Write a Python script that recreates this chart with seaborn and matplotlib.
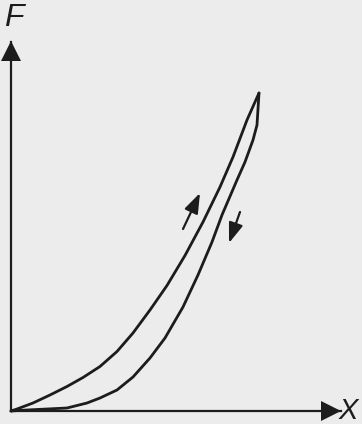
import matplotlib
matplotlib.use("Agg")
import matplotlib.pyplot as plt
import seaborn as sns
import pandas as pd

# Loading branch (upper curve) of the force-displacement loop
load_x = [0.0, 0.24, 0.88, 1.56, 2.24, 2.88, 3.56, 4.24, 4.88, 5.56, 6.24, 6.96,
          7.68, 8.36, 8.88, 9.44, 9.92]
load_f = [0.0, 0.08, 0.32, 0.64, 0.98, 1.34, 1.78, 2.38, 3.12, 4.04, 5.02, 6.22,
          7.56, 8.96, 10.16, 11.64, 12.72]

# Unloading branch (lower curve)
unload_x = [9.92, 9.84, 9.68, 9.36, 9.04, 8.44, 8.04, 7.48, 6.88, 6.16, 5.56, 4.88,
            4.24, 3.56, 3.04, 2.24, 0.64, 0.0]
unload_f = [12.72, 11.44, 10.84, 9.96, 9.24, 7.84, 6.76, 5.44, 4.16, 2.92, 2.12, 1.36,
            0.84, 0.52, 0.32, 0.12, 0.04, 0.0]

# Direction arrows along each branch: (tail, head)
up_arrow = ((6.88, 7.28), (7.56, 8.72))
down_arrow = ((9.16, 7.96), (8.72, 6.72))

axis_labels = ("X", "F")

ink = "#1c1c1c"
paper = "#ececec"

sns.set_style("white")
plt.rcParams["font.family"] = ["Liberation Sans", "DejaVu Sans"]

fig = plt.figure(figsize=(3.62, 4.24), dpi=100, facecolor=paper)
ax = fig.add_axes([11 / 362, 13 / 424, 330 / 362, 369 / 424])
ax.set_facecolor(paper)

df_load = pd.DataFrame({"x": load_x, "F": load_f})
df_unload = pd.DataFrame({"x": unload_x, "F": unload_f})
for df in (df_load, df_unload):
    sns.lineplot(data=df, x="x", y="F", sort=False, estimator=None, ax=ax,
                 color=ink, linewidth=2.0, clip_on=False,
                 solid_joinstyle="round", solid_capstyle="round")

ax.set_xlim(0, 13.2)
ax.set_ylim(0, 14.76)
ax.set_xticks([])
ax.set_yticks([])
ax.set_xlabel("")
ax.set_ylabel("")
for side in ("top", "right"):
    ax.spines[side].set_visible(False)
for side in ("left", "bottom"):
    ax.spines[side].set_color(ink)
    ax.spines[side].set_linewidth(1.6)

# Arrowheads at the ends of the axes
ax.plot([1 - 10 / 330], [0], marker=">", markersize=14.5, color=ink,
        markeredgewidth=0, transform=ax.transAxes, clip_on=False, linestyle="none")
ax.plot([0], [1 - 9 / 369], marker="^", markersize=14.5, color=ink,
        markeredgewidth=0, transform=ax.transAxes, clip_on=False, linestyle="none")

# Axis letters
fig.text(14 / 362, 1 - 18 / 424, axis_labels[1], fontsize=23, style="italic",
         color=ink, ha="center", va="center")
fig.text(358 / 362, 1 - 411 / 424, axis_labels[0], fontsize=21, style="italic",
         color=ink, ha="right", va="center")

# Loading / unloading direction arrows
for tail, head in (up_arrow, down_arrow):
    ax.annotate("", xy=head, xytext=tail,
                arrowprops=dict(arrowstyle="-|>,head_length=0.87,head_width=0.31",
                                mutation_scale=14, color=ink, lw=1.6,
                                shrinkA=0, shrinkB=0))

fig.savefig("out.png", dpi=100, facecolor=paper)
